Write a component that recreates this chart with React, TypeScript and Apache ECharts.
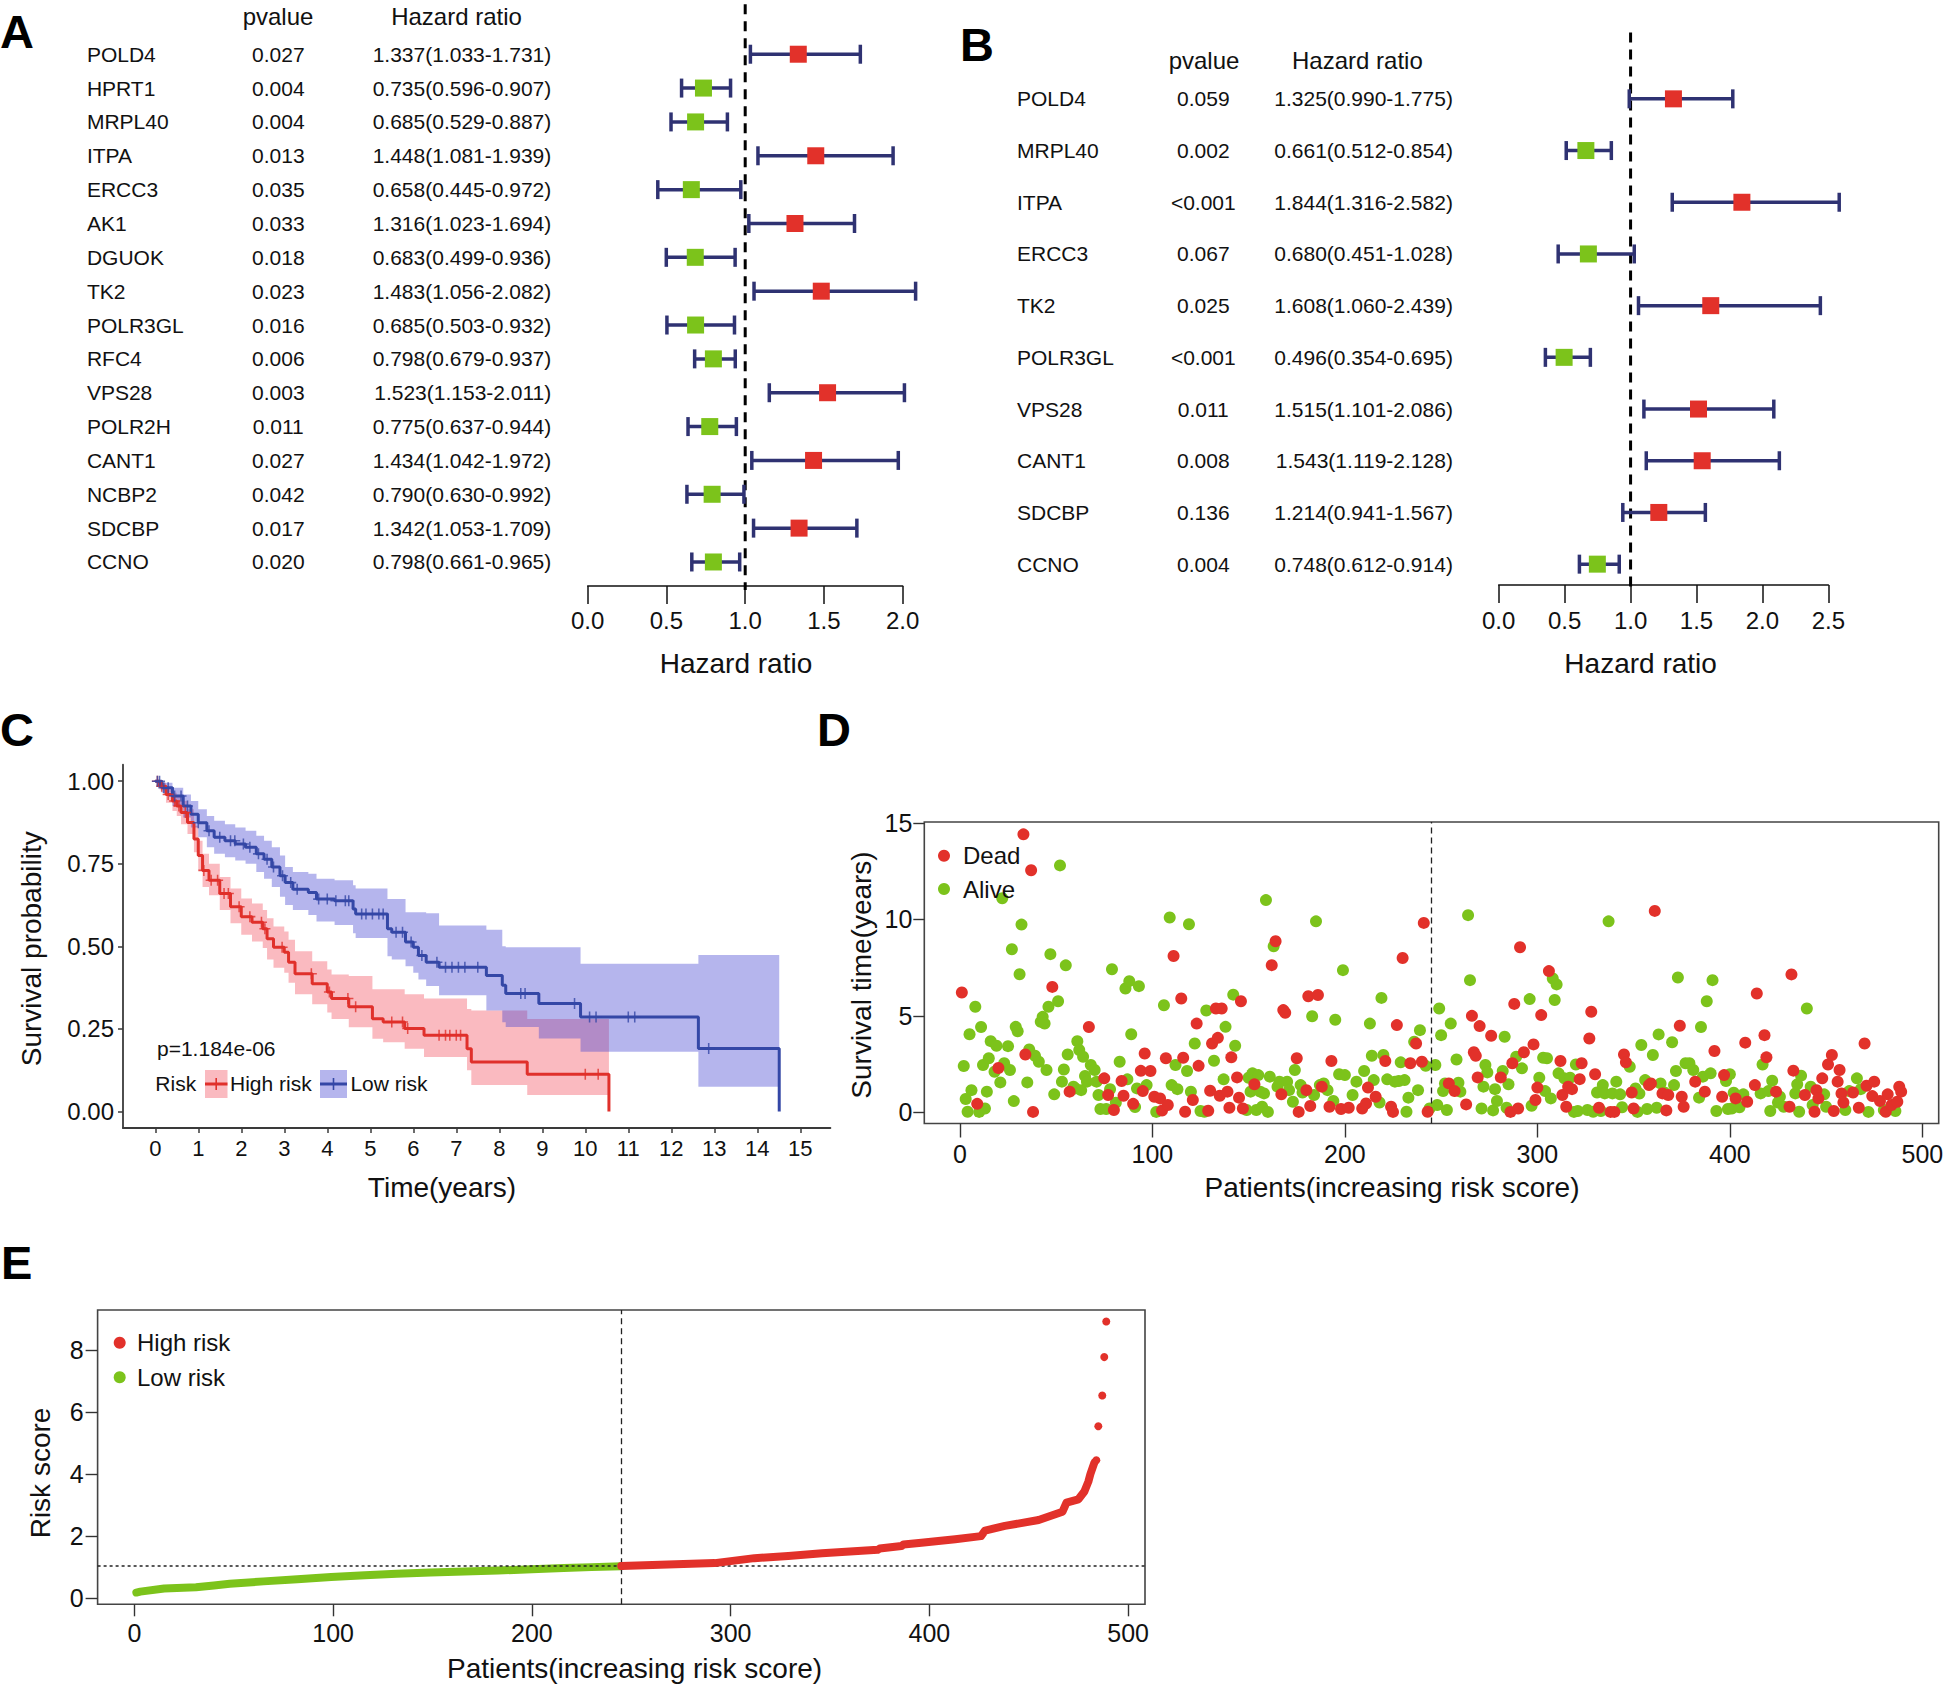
import React, { useEffect, useRef } from "react";
import * as echarts from "echarts";

const FONT = "'Liberation Sans', Arial, Helvetica, sans-serif";
const RED = "#E2312A";
const GREEN = "#7CC31B";
const NAVY = "#2F3272";
const INK = "#111111";
const KM_RED = "#E0302B";
const KM_BLUE = "#3447A6";
const BAND_RED = "rgba(240,40,60,0.32)";
const BAND_BLUE = "rgba(70,70,210,0.40)";

// ---------- Panel A : univariate forest ----------
const genesA = ["POLD4", "HPRT1", "MRPL40", "ITPA", "ERCC3", "AK1", "DGUOK", "TK2", "POLR3GL", "RFC4", "VPS28", "POLR2H", "CANT1", "NCBP2", "SDCBP", "CCNO"];
const pvalA = ["0.027", "0.004", "0.004", "0.013", "0.035", "0.033", "0.018", "0.023", "0.016", "0.006", "0.003", "0.011", "0.027", "0.042", "0.017", "0.020"];
const hrA = [1.337, 0.735, 0.685, 1.448, 0.658, 1.316, 0.683, 1.483, 0.685, 0.798, 1.523, 0.775, 1.434, 0.79, 1.342, 0.798];
const lowA = [1.033, 0.596, 0.529, 1.081, 0.445, 1.023, 0.499, 1.056, 0.503, 0.679, 1.153, 0.637, 1.042, 0.63, 1.053, 0.661];
const highA = [1.731, 0.907, 0.887, 1.939, 0.972, 1.694, 0.936, 2.082, 0.932, 0.937, 2.011, 0.944, 1.972, 0.992, 1.709, 0.965];

// ---------- Panel B : multivariate forest ----------
const genesB = ["POLD4", "MRPL40", "ITPA", "ERCC3", "TK2", "POLR3GL", "VPS28", "CANT1", "SDCBP", "CCNO"];
const pvalB = ["0.059", "0.002", "<0.001", "0.067", "0.025", "<0.001", "0.011", "0.008", "0.136", "0.004"];
const hrB = [1.325, 0.661, 1.844, 0.68, 1.608, 0.496, 1.515, 1.543, 1.214, 0.748];
const lowB = [0.99, 0.512, 1.316, 0.451, 1.06, 0.354, 1.101, 1.119, 0.941, 0.612];
const highB = [1.775, 0.854, 2.582, 1.028, 2.439, 0.695, 2.086, 2.128, 1.567, 0.914];

// ---------- Panel C : Kaplan-Meier ----------
const highTime = [0, 0.1, 0.25, 0.4, 0.5, 0.6, 0.75, 0.9, 1.0, 1.1, 1.25, 1.5, 1.75, 2.0, 2.25, 2.5, 2.6, 2.75, 3.0, 3.1, 3.25, 3.65, 4.0, 4.1, 4.5, 5.05, 5.3, 5.8, 6.25, 7.25, 7.35, 8.65, 10.55];
const highSurv = [1, 0.985, 0.96, 0.94, 0.925, 0.905, 0.875, 0.825, 0.775, 0.73, 0.7, 0.66, 0.62, 0.59, 0.573, 0.553, 0.523, 0.497, 0.482, 0.452, 0.417, 0.387, 0.362, 0.342, 0.317, 0.281, 0.271, 0.251, 0.231, 0.19, 0.15, 0.113, 0];
const highLower = [1, 0.975, 0.935, 0.91, 0.895, 0.87, 0.84, 0.785, 0.73, 0.68, 0.655, 0.61, 0.57, 0.535, 0.515, 0.495, 0.46, 0.435, 0.42, 0.39, 0.355, 0.325, 0.3, 0.28, 0.255, 0.22, 0.21, 0.19, 0.165, 0.125, 0.08, 0.05, 0.05];
const highUpper = [1, 0.995, 0.98, 0.965, 0.955, 0.94, 0.915, 0.865, 0.82, 0.78, 0.75, 0.71, 0.675, 0.645, 0.63, 0.61, 0.585, 0.56, 0.545, 0.52, 0.485, 0.455, 0.43, 0.415, 0.41, 0.37, 0.37, 0.355, 0.342, 0.31, 0.306, 0.28, 0.28];
const highCensor = [0.05, 0.15, 0.3, 0.45, 0.55, 0.7, 1.13, 1.3, 1.45, 1.6, 1.7, 1.95, 2.2, 2.47, 2.55, 2.95, 3.63, 4.05, 4.48, 4.66, 5.5, 5.75, 5.87, 6.6, 6.75, 6.85, 7.0, 7.1, 10.0, 10.3];

const lowTime = [0, 0.15, 0.4, 0.65, 0.83, 1.0, 1.2, 1.37, 1.62, 1.86, 2.1, 2.35, 2.53, 2.71, 2.9, 3.02, 3.2, 3.56, 3.75, 4.17, 4.6, 4.66, 5.4, 5.5, 5.82, 6.0, 6.12, 6.3, 6.6, 7.7, 8.07, 8.15, 8.92, 9.89, 12.63, 14.51];
const lowSurv = [1, 0.98, 0.955, 0.925, 0.9, 0.874, 0.85, 0.83, 0.82, 0.81, 0.8, 0.78, 0.764, 0.74, 0.714, 0.693, 0.673, 0.663, 0.643, 0.638, 0.613, 0.598, 0.553, 0.543, 0.513, 0.497, 0.472, 0.452, 0.437, 0.412, 0.382, 0.357, 0.327, 0.286, 0.191, 0];
const lowLower = [1, 0.965, 0.925, 0.89, 0.86, 0.83, 0.8, 0.78, 0.77, 0.76, 0.75, 0.725, 0.705, 0.68, 0.65, 0.625, 0.61, 0.595, 0.575, 0.565, 0.54, 0.525, 0.47, 0.46, 0.44, 0.42, 0.4, 0.38, 0.352, 0.306, 0.27, 0.256, 0.221, 0.181, 0.075, 0.075];
const lowUpper = [1, 0.995, 0.98, 0.96, 0.94, 0.915, 0.895, 0.88, 0.87, 0.86, 0.85, 0.835, 0.82, 0.8, 0.775, 0.74, 0.725, 0.72, 0.705, 0.7, 0.685, 0.675, 0.643, 0.643, 0.603, 0.603, 0.603, 0.6, 0.563, 0.55, 0.5, 0.497, 0.497, 0.447, 0.474, 0.474];
const lowCensor = [0.05, 0.1, 0.2, 0.3, 0.45, 0.6, 0.75, 1.0, 1.25, 1.5, 1.75, 1.85, 2.05, 2.2, 2.4, 2.6, 2.75, 2.96, 3.15, 3.3, 3.8, 4.0, 4.2, 4.42, 4.5, 4.8, 4.9, 5.05, 5.2, 5.3, 5.6, 5.75, 5.95, 6.2, 6.55, 6.75, 6.9, 7.05, 7.2, 7.5, 8.5, 8.6, 9.75, 10.1, 10.25, 11.0, 11.15, 12.87];
const kmYearTicks = [0, 1, 2, 3, 4, 5, 6, 7, 8, 9, 10, 11, 12, 13, 14, 15];
const kmProbTicks = [0, 0.25, 0.5, 0.75, 1];

// ---------- Panel D : survival status ----------
const deadPoints: [number, number][] = [
  [1, 6.21], [9, 0.44], [20, 2.3], [33, 14.41], [34, 3.0], [37, 12.55], [38, 0.02], [48, 6.5], [57, 1.07], [67, 4.42],
  [75, 1.76], [77, 0.9], [80, 0.12], [84, 1.62], [85, 0.86], [90, 0.44], [94, 2.15], [95, 1.1], [96, 3.05], [99, 2.14],
  [101, 0.81], [104, 0.72], [105, 0.09], [107, 2.8], [108, 0.38], [111, 8.1], [115, 5.9], [116, 2.83], [117, 0.03], [121, 0.64],
  [123, 4.6], [124, 2.41], [129, 0.08], [130, 1.12], [131, 3.57], [133, 5.38], [134, 3.86], [135, 0.86], [136, 5.38], [139, 1.07],
  [140, 0.24], [141, 2.85], [144, 1.81], [145, 0.76], [146, 5.76], [147, 0.2], [153, 1.45], [162, 7.63], [164, 8.87], [167, 0.93],
  [168, 5.3], [169, 5.16], [175, 2.8], [176, 0.02], [180, 1.15], [181, 6.02], [182, 0.33], [186, 6.08], [188, 1.33], [192, 0.29],
  [193, 2.66], [198, 0.17], [202, 0.24], [209, 0.2], [211, 0.46], [212, 1.28], [216, 0.81], [221, 2.66], [224, 0.29], [225, 0.02],
  [227, 4.52], [230, 8.0], [234, 2.54], [237, 3.57], [240, 2.62], [241, 9.82], [243, 0.03], [254, 1.5], [257, 1.1], [263, 0.41],
  [266, 5.0], [267, 3.11], [268, 2.93], [269, 1.81], [270, 4.47], [276, 3.97], [281, 1.81], [286, 0.02], [287, 2.54], [288, 5.62],
  [290, 0.2], [291, 8.56], [293, 3.11], [298, 3.52], [299, 0.64], [300, 1.28], [302, 5.04], [306, 7.32], [312, 2.66], [313, 0.9],
  [315, 0.29], [316, 1.33], [318, 1.2], [322, 1.72], [323, 2.54], [327, 3.83], [328, 5.21], [330, 1.97], [332, 0.24], [338, 0.02],
  [340, 0.02], [345, 3.0], [346, 2.59], [349, 1.03], [350, 0.2], [358, 1.41], [359, 1.5], [361, 10.44], [365, 0.98], [367, 0.1],
  [368, 0.9], [374, 4.49], [375, 0.81], [376, 0.29], [382, 1.59], [387, 1.07], [392, 3.18], [396, 0.81], [397, 1.93], [403, 0.72],
  [408, 3.61], [409, 0.55], [413, 1.41], [414, 6.16], [418, 4.0], [419, 2.85], [424, 1.07], [431, 0.29], [432, 7.15], [433, 2.16],
  [439, 0.9], [444, 0.03], [445, 1.15], [446, 0.72], [448, 1.76], [451, 2.48], [453, 2.97], [454, 0.07], [456, 1.59], [457, 2.19],
  [458, 0.98], [459, 0.51], [464, 1.03], [467, 0.24], [470, 3.57], [471, 1.38], [474, 0.84], [475, 1.59], [478, 0.59], [481, 0.03],
  [482, 0.93], [484, 0.38], [487, 0.55], [488, 1.33], [489, 1.07],
];
const alivePoints: [number, number][] = [
  [2, 2.4], [3, 0.69], [4, 0.03], [5, 4.05], [6, 1.15], [8, 5.47], [10, 0.02], [11, 4.42], [12, 2.45], [13, 0.2],
  [14, 1.07], [15, 2.8], [16, 3.69], [18, 2.1], [19, 3.45], [21, 1.55], [22, 11.1], [23, 2.54], [25, 3.43], [26, 2.19],
  [27, 8.45], [28, 0.58], [29, 4.43], [30, 4.2], [31, 7.16], [32, 9.73], [35, 1.55], [36, 3.26], [39, 2.93], [41, 2.62],
  [42, 4.69], [43, 4.95], [44, 4.6], [45, 2.19], [46, 5.47], [47, 8.2], [49, 0.93], [51, 5.76], [52, 12.8], [53, 1.59],
  [54, 2.22], [55, 7.62], [56, 3.0], [59, 1.33], [60, 1.24], [61, 3.69], [62, 3.23], [63, 1.15], [64, 2.88], [65, 1.88],
  [66, 1.59], [68, 2.45], [70, 2.19], [71, 1.59], [72, 0.9], [73, 0.17], [76, 0.17], [78, 1.2], [79, 7.42], [81, 0.5],
  [83, 2.62], [86, 6.42], [87, 1.71], [88, 6.8], [89, 4.05], [91, 0.27], [92, 1.24], [93, 6.54], [97, 1.41], [102, 0.02],
  [106, 5.55], [109, 10.1], [110, 1.41], [112, 2.45], [113, 1.2], [118, 2.14], [119, 9.75], [120, 1.07], [122, 3.57], [125, 0.07],
  [127, 0.03], [128, 5.28], [132, 2.67], [137, 1.71], [138, 4.43], [142, 6.1], [143, 3.45], [149, 0.12], [150, 1.79], [151, 1.07],
  [152, 2.02], [154, 0.12], [155, 1.93], [156, 1.07], [157, 0.29], [158, 0.98], [159, 11.0], [160, 0.02], [161, 1.85], [163, 8.61],
  [165, 1.33], [166, 1.59], [170, 1.59], [171, 1.15], [173, 0.55], [174, 2.19], [177, 1.41], [178, 1.03], [183, 4.98], [184, 0.9],
  [185, 9.9], [187, 1.41], [189, 1.5], [191, 1.15], [194, 0.59], [195, 4.8], [197, 1.97], [199, 7.37], [200, 1.93], [204, 0.9],
  [206, 1.59], [210, 2.14], [213, 4.6], [214, 2.93], [215, 1.67], [218, 0.51], [219, 5.93], [220, 2.97], [222, 1.71], [226, 1.59],
  [228, 1.62], [229, 2.59], [231, 1.67], [232, 0.03], [233, 0.76], [236, 3.66], [238, 1.15], [239, 4.26], [242, 2.41], [244, 0.2],
  [247, 2.45], [248, 0.38], [249, 5.38], [250, 4.0], [251, 1.1], [252, 1.5], [253, 0.12], [255, 4.6], [258, 2.74], [259, 1.53],
  [260, 1.07], [264, 10.22], [265, 6.85], [271, 0.2], [272, 1.33], [273, 2.45], [274, 2.07], [277, 0.1], [278, 1.2], [279, 0.59],
  [282, 2.14], [283, 3.92], [284, 0.24], [285, 1.45], [289, 2.88], [292, 2.28], [296, 5.87], [297, 0.34], [301, 1.79], [303, 2.83],
  [304, 1.1], [305, 2.8], [307, 0.72], [308, 6.94], [309, 5.82], [310, 6.63], [311, 2.02], [314, 1.76], [317, 1.79], [319, 0.02],
  [320, 2.48], [321, 0.07], [326, 0.12], [329, 0.03], [331, 1.03], [333, 0.07], [334, 1.41], [335, 0.98], [337, 9.9], [339, 0.98],
  [341, 1.59], [343, 0.93], [344, 0.26], [348, 2.36], [351, 1.24], [352, 0.02], [353, 0.97], [354, 3.49], [356, 1.67], [357, 0.17],
  [360, 2.97], [362, 0.24], [363, 4.04], [364, 1.5], [366, 1.03], [370, 3.63], [371, 1.41], [372, 2.14], [373, 6.99], [377, 2.54],
  [379, 2.54], [381, 2.19], [384, 0.76], [385, 4.42], [386, 1.85], [388, 5.76], [390, 2.02], [391, 6.85], [393, 0.07], [398, 1.62],
  [399, 0.17], [400, 1.97], [401, 0.2], [402, 1.02], [405, 0.26], [407, 0.93], [416, 0.98], [417, 2.48], [420, 1.1], [421, 0.07],
  [422, 1.64], [425, 0.51], [426, 0.81], [428, 0.29], [434, 0.98], [435, 1.45], [436, 0.03], [437, 1.9], [440, 5.38], [442, 1.33],
  [443, 0.38], [449, 0.93], [450, 0.29], [460, 0.12], [462, 1.1], [466, 1.76], [468, 1.2], [472, 0.02], [480, 0.12], [486, 0.07],
];
const patientTicks = [0, 100, 200, 300, 400, 500];
const timeTicks = [0, 5, 10, 15];
const cutoffPatient = 245;

// ---------- Panel E : risk score ----------
const lowRiskPatients = [1, 3, 15, 31, 40, 48, 65, 82, 99, 116, 132, 149, 166, 183, 200, 216, 230, 245];
const lowRiskScores = [0.18, 0.21, 0.31, 0.35, 0.41, 0.46, 0.54, 0.61, 0.68, 0.74, 0.79, 0.83, 0.86, 0.89, 0.93, 0.97, 1.0, 1.03];
const highRiskPatients = [245, 292, 312, 329, 346, 374, 375, 386, 387, 396, 413, 426, 428, 438, 455, 467, 469, 475, 478, 480, 481, 483];
const highRiskScores = [1.04, 1.13, 1.29, 1.36, 1.45, 1.56, 1.6, 1.68, 1.73, 1.79, 1.9, 2.0, 2.18, 2.33, 2.52, 2.79, 3.08, 3.19, 3.44, 3.76, 4.0, 4.37];
const topRiskPatients = [484, 485, 487, 488, 489];
const topRiskScores = [4.45, 5.55, 6.54, 7.78, 8.93];
const riskTicks = [0, 2, 4, 6, 8];
const cutoffScore = 1.04;

const fmt3 = (v: number) => v.toFixed(3);
const zip = (a: number[], b: number[]) => a.map((v, i) => [v, b[i]]);
const survAt = (times: number[], surv: number[], t: number) => {
  let s = surv[0];
  for (let i = 0; i < times.length; i++) if (times[i] <= t) s = surv[i];
  return s;
};

function forestSeries(axis: number, hr: number[], lo: number[], hi: number[], extTop: number, extBottom: number) {
  return [
    {
      type: "custom",
      xAxisIndex: axis,
      yAxisIndex: axis,
      clip: false,
      silent: true,
      z: 2,
      data: [[1, 0]],
      encode: { x: 0, y: 1 },
      renderItem: (params: any, api: any) => {
        const c = api.coord([1, 0]);
        const cs = params.coordSys;
        return {
          type: "line",
          shape: { x1: c[0], y1: cs.y - extTop, x2: c[0], y2: cs.y + cs.height + extBottom },
          style: { stroke: "#000", lineWidth: 3, lineDash: [10, 7] },
        };
      },
    },
    {
      type: "custom",
      xAxisIndex: axis,
      yAxisIndex: axis,
      clip: false,
      silent: true,
      z: 3,
      data: lo.map((l, i) => [l, hi[i], i]),
      encode: { x: [0, 1], y: 2 },
      renderItem: (params: any, api: any) => {
        const row = api.value(2);
        const a = api.coord([api.value(0), row]);
        const b = api.coord([api.value(1), row]);
        const h = 9.5;
        const st = { stroke: NAVY, lineWidth: 3.5 };
        return {
          type: "group",
          children: [
            { type: "line", shape: { x1: a[0], y1: a[1], x2: b[0], y2: b[1] }, style: st },
            { type: "line", shape: { x1: a[0], y1: a[1] - h, x2: a[0], y2: a[1] + h }, style: st },
            { type: "line", shape: { x1: b[0], y1: b[1] - h, x2: b[0], y2: b[1] + h }, style: st },
          ],
        };
      },
    },
    {
      type: "scatter",
      xAxisIndex: axis,
      yAxisIndex: axis,
      silent: true,
      symbol: "rect",
      symbolSize: 17,
      z: 5,
      data: hr.map((h, i) => ({ value: [h, i], itemStyle: { color: h > 1 ? RED : GREEN, opacity: 1 } })),
    },
  ];
}

function bandSeries(axis: number, times: number[], lo: number[], hi: number[], fill: string, z: number) {
  return {
    type: "custom",
    xAxisIndex: axis,
    yAxisIndex: axis,
    silent: true,
    clip: false,
    z,
    data: [[0, 0]],
    encode: { x: 0, y: 1 },
    renderItem: (_params: any, api: any) => {
      const pts: number[][] = [];
      for (let i = 0; i < times.length - 1; i++) {
        pts.push(api.coord([times[i], hi[i]]));
        pts.push(api.coord([times[i + 1], hi[i]]));
      }
      for (let i = times.length - 2; i >= 0; i--) {
        pts.push(api.coord([times[i + 1], lo[i]]));
        pts.push(api.coord([times[i], lo[i]]));
      }
      return { type: "polygon", shape: { points: pts }, style: { fill } };
    },
  };
}

const PLUS = "path://M4.3,0H5.7V4.3H10V5.7H5.7V10H4.3V5.7H0V4.3H4.3Z";

function txt(text: string, x: number, y: number, size: number, opts: any = {}) {
  const align = opts.align || "left";
  return {
    type: "text",
    x,
    y,
    rotation: opts.rotation || 0,
    silent: true,
    z: 100,
    style: {
      text,
      fontSize: size,
      fontFamily: FONT,
      fontWeight: opts.bold ? "bold" : "normal",
      fill: opts.color || INK,
      align,
      textAlign: align,
      verticalAlign: "middle",
      textVerticalAlign: "middle",
    },
  };
}

function forestXAxis(grid: number, max: number, offset: number) {
  return {
    type: "value",
    gridIndex: grid,
    min: 0,
    max,
    interval: 0.5,
    offset,
    axisLine: { show: true, onZero: false, lineStyle: { color: INK, width: 1.5 } },
    axisTick: { show: true, length: 18, lineStyle: { color: INK, width: 1.5 } },
    axisLabel: { fontSize: 24, margin: 23, color: INK, fontFamily: FONT, formatter: (v: number) => v.toFixed(1) },
    splitLine: { show: false },
  };
}

function forestYAxis(grid: number, genes: string[], pv: string[], hr: number[], lo: number[], hi: number[], w: number[], margin: number) {
  const base = { fontSize: 21, fontFamily: FONT, color: INK };
  return {
    type: "category",
    gridIndex: grid,
    inverse: true,
    data: genes,
    axisLine: { show: false, onZero: false },
    axisTick: { show: false },
    splitLine: { show: false },
    axisLabel: {
      interval: 0,
      margin,
      formatter: (value: string, idx: number) =>
        `{g|${value}}{p|${pv[idx]}}{h|${fmt3(hr[idx])}(${fmt3(lo[idx])}-${fmt3(hi[idx])})}`,
      rich: {
        g: { ...base, width: w[0], align: "left" },
        p: { ...base, width: w[1], align: "center" },
        h: { ...base, width: w[2], align: "right" },
      },
    },
  };
}

function boxAxis(grid: number, min: number, max: number, ticks: number[], tickLen: number, fontSize: number, margin: number) {
  return {
    type: "value",
    gridIndex: grid,
    min,
    max,
    axisLine: { show: false, onZero: false },
    axisTick: { show: true, customValues: ticks, length: tickLen, lineStyle: { color: "#333", width: 1.4 } },
    axisLabel: { customValues: ticks, fontSize, margin, color: INK, fontFamily: FONT },
    splitLine: { show: false },
  };
}

function buildOption(): any {
  const gridBase = { containLabel: false, outerBoundsMode: "none" };
  return {
    animation: false,
    backgroundColor: "#ffffff",
    textStyle: { fontFamily: FONT },
    grid: [
      { ...gridBase, left: 587.7, top: 37.3, width: 315, height: 541.6 },
      { ...gridBase, left: 1498.7, top: 73, width: 329.7, height: 517 },
      { ...gridBase, left: 123, top: 764.7, width: 707.4, height: 363.3 },
      { ...gridBase, left: 924.3, top: 822, width: 1014.4, height: 301.5, show: true, borderColor: "#444", borderWidth: 1.6, backgroundColor: "transparent" },
      { ...gridBase, left: 97.6, top: 1310, width: 1047.4, height: 294.3, show: true, borderColor: "#444", borderWidth: 1.6, backgroundColor: "transparent" },
    ],
    xAxis: [
      forestXAxis(0, 2, 7),
      forestXAxis(1, 2.5, -5),
      {
        type: "value",
        gridIndex: 2,
        min: -0.75,
        max: 15.7,
        axisLine: { show: true, onZero: false, lineStyle: { color: "#3a3a3a", width: 1.8 } },
        axisTick: { show: true, customValues: kmYearTicks, length: 5, lineStyle: { color: "#3a3a3a", width: 1.5 } },
        axisLabel: { customValues: kmYearTicks, fontSize: 22, margin: 9, color: INK, fontFamily: FONT },
        splitLine: { show: false },
      },
      boxAxis(3, -18.5, 508.5, patientTicks, 14, 25, 18),
      boxAxis(4, -18.5, 508.5, patientTicks, 12, 25, 16),
    ],
    yAxis: [
      forestYAxis(0, genesA, pvalA, hrA, lowA, highA, [146.4, 90, 228], 36.4),
      forestYAxis(1, genesB, pvalB, hrB, lowB, highB, [141.3, 90, 204.6], 45.8),
      {
        type: "value",
        gridIndex: 2,
        min: -0.05,
        max: 1.05,
        axisLine: { show: true, onZero: false, lineStyle: { color: "#3a3a3a", width: 1.8 } },
        axisTick: { show: true, customValues: kmProbTicks, length: 5, lineStyle: { color: "#3a3a3a", width: 1.5 } },
        axisLabel: { customValues: kmProbTicks, fontSize: 24, margin: 9, color: INK, fontFamily: FONT, formatter: (v: number) => v.toFixed(2) },
        splitLine: { show: false },
      },
      boxAxis(3, -0.58, 15.05, timeTicks, 11, 25, 12),
      boxAxis(4, -0.2, 9.3, riskTicks, 12, 25, 14),
    ],
    series: [
      ...forestSeries(0, hrA, lowA, highA, 33, 11),
      ...forestSeries(1, hrB, lowB, highB, 40.5, 0),
      // Panel C
      bandSeries(2, highTime, highLower, highUpper, BAND_RED, 1),
      bandSeries(2, lowTime, lowLower, lowUpper, BAND_BLUE, 2),
      {
        type: "line",
        xAxisIndex: 2,
        yAxisIndex: 2,
        step: "end",
        symbol: "none",
        silent: true,
        z: 4,
        data: zip(highTime, highSurv),
        lineStyle: { color: KM_RED, width: 3 },
      },
      {
        type: "line",
        xAxisIndex: 2,
        yAxisIndex: 2,
        step: "end",
        symbol: "none",
        silent: true,
        z: 4,
        data: zip(lowTime, lowSurv),
        lineStyle: { color: KM_BLUE, width: 3 },
      },
      {
        type: "scatter",
        xAxisIndex: 2,
        yAxisIndex: 2,
        symbol: PLUS,
        symbolSize: 11,
        silent: true,
        z: 5,
        itemStyle: { color: KM_RED },
        data: highCensor.map((t) => [t, survAt(highTime, highSurv, t)]),
      },
      {
        type: "scatter",
        xAxisIndex: 2,
        yAxisIndex: 2,
        symbol: PLUS,
        symbolSize: 11,
        silent: true,
        z: 5,
        itemStyle: { color: KM_BLUE },
        data: lowCensor.map((t) => [t, survAt(lowTime, lowSurv, t)]),
      },
      // Panel D
      {
        type: "scatter",
        xAxisIndex: 3,
        yAxisIndex: 3,
        symbolSize: 12,
        silent: true,
        z: 4,
        itemStyle: { color: GREEN, opacity: 1 },
        data: alivePoints,
        markLine: {
          silent: true,
          symbol: ["none", "none"],
          label: { show: false },
          lineStyle: { color: "#222", width: 1.3, type: [6, 4] },
          data: [{ xAxis: cutoffPatient }],
        },
      },
      {
        type: "scatter",
        xAxisIndex: 3,
        yAxisIndex: 3,
        symbolSize: 12,
        silent: true,
        z: 5,
        itemStyle: { color: RED, opacity: 1 },
        data: deadPoints,
      },
      // Panel E
      {
        type: "line",
        xAxisIndex: 4,
        yAxisIndex: 4,
        symbol: "none",
        silent: true,
        z: 4,
        data: zip(lowRiskPatients, lowRiskScores),
        lineStyle: { color: GREEN, width: 8, cap: "round", join: "round" },
        markLine: {
          silent: true,
          symbol: ["none", "none"],
          label: { show: false },
          data: [
            { xAxis: cutoffPatient, lineStyle: { color: "#222", width: 1.3, type: [6, 4] } },
            { yAxis: cutoffScore, lineStyle: { color: "#222", width: 1.5, type: [3, 3] } },
          ],
        },
      },
      {
        type: "line",
        xAxisIndex: 4,
        yAxisIndex: 4,
        symbol: "none",
        silent: true,
        z: 5,
        data: zip(highRiskPatients, highRiskScores),
        lineStyle: { color: RED, width: 8, cap: "round", join: "round" },
      },
      {
        type: "scatter",
        xAxisIndex: 4,
        yAxisIndex: 4,
        symbolSize: 8,
        silent: true,
        z: 5,
        itemStyle: { color: RED, opacity: 1 },
        data: zip(topRiskPatients, topRiskScores),
      },
    ],
    graphic: [
      // panel letters
      txt("A", 0, 31.4, 47, { bold: true, color: "#000" }),
      txt("B", 960, 44.5, 47, { bold: true, color: "#000" }),
      txt("C", 0, 729.7, 47, { bold: true, color: "#000" }),
      txt("D", 817, 729.7, 47, { bold: true, color: "#000" }),
      txt("E", 1, 1262, 47, { bold: true, color: "#000" }),
      // forest headers
      txt("pvalue", 278, 16.5, 24, { align: "center" }),
      txt("Hazard ratio", 456.5, 16.5, 24, { align: "center" }),
      txt("pvalue", 1204, 60, 24, { align: "center" }),
      txt("Hazard ratio", 1357.4, 60, 24, { align: "center" }),
      txt("Hazard ratio", 736, 663, 28, { align: "center" }),
      txt("Hazard ratio", 1640.6, 663.5, 28, { align: "center" }),
      // panel C
      txt("Survival probability", 31.4, 948.8, 28, { align: "center", rotation: Math.PI / 2 }),
      txt("Time(years)", 442, 1187.6, 28, { align: "center" }),
      txt("p=1.184e-06", 157, 1048, 21),
      txt("Risk", 155.3, 1083, 21),
      { type: "rect", silent: true, z: 90, shape: { x: 205, y: 1070, width: 22.5, height: 28 }, style: { fill: BAND_RED } },
      { type: "line", silent: true, z: 91, shape: { x1: 205, y1: 1084, x2: 227.5, y2: 1084 }, style: { stroke: KM_RED, lineWidth: 3 } },
      { type: "line", silent: true, z: 91, shape: { x1: 216.2, y1: 1078, x2: 216.2, y2: 1090 }, style: { stroke: KM_RED, lineWidth: 1.6 } },
      txt("High risk", 230, 1083, 21),
      { type: "rect", silent: true, z: 90, shape: { x: 320, y: 1070, width: 27, height: 28 }, style: { fill: BAND_BLUE } },
      { type: "line", silent: true, z: 91, shape: { x1: 320, y1: 1084, x2: 347, y2: 1084 }, style: { stroke: KM_BLUE, lineWidth: 3 } },
      { type: "line", silent: true, z: 91, shape: { x1: 333.5, y1: 1078, x2: 333.5, y2: 1090 }, style: { stroke: KM_BLUE, lineWidth: 1.6 } },
      txt("Low risk", 350.4, 1083, 21),
      // panel D
      txt("Survival time(years)", 861.7, 975, 28, { align: "center", rotation: Math.PI / 2 }),
      txt("Patients(increasing risk score)", 1392, 1187.6, 28, { align: "center" }),
      { type: "circle", silent: true, z: 90, shape: { cx: 944, cy: 855.7, r: 6 }, style: { fill: RED } },
      { type: "circle", silent: true, z: 90, shape: { cx: 944, cy: 889, r: 6 }, style: { fill: GREEN } },
      txt("Dead", 963, 855.7, 24),
      txt("Alive", 963, 889, 24),
      // panel E
      txt("Risk score", 40.7, 1473, 28, { align: "center", rotation: Math.PI / 2 }),
      txt("Patients(increasing risk score)", 634.6, 1668, 28, { align: "center" }),
      { type: "circle", silent: true, z: 90, shape: { cx: 119.7, cy: 1342.7, r: 6 }, style: { fill: RED } },
      { type: "circle", silent: true, z: 90, shape: { cx: 119.7, cy: 1377.3, r: 6 }, style: { fill: GREEN } },
      txt("High risk", 137, 1342.7, 24),
      txt("Low risk", 137, 1377.3, 24),
    ],
  };
}

export default function App() {
  const ref = useRef<HTMLDivElement>(null);
  useEffect(() => {
    document.body.style.margin = "0";
    const chart = echarts.init(ref.current as HTMLDivElement, null, { renderer: "svg" });
    chart.setOption(buildOption());
    return () => chart.dispose();
  }, []);
  return <div ref={ref} style={{ width: 1948, height: 1684 }} />;
}
